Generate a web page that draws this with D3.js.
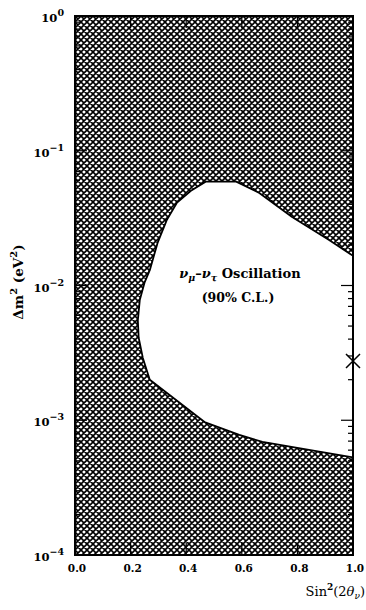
<!DOCTYPE html>
<html>
<head>
<meta charset="utf-8">
<script src="https://cdn.jsdelivr.net/npm/d3@7"></script>
<style>
  html, body { margin: 0; padding: 0; background: #fff; }
  svg text { font-family: "DejaVu Serif", serif; font-weight: bold; fill: #000; }
</style>
</head>
<body>
<svg id="chart" width="366" height="610"></svg>
<script>
// Boundary of the allowed region (90% C.L.), traced from the right edge
// along the upper limit, round the left side and back along the lower limit.
const contourSin2 = [1.000, 0.914, 0.781, 0.663, 0.580, 0.470, 0.420, 0.366, 0.330, 0.297,
                     0.269, 0.250, 0.233, 0.226, 0.229, 0.244, 0.269, 0.466, 0.591, 0.674,
                     0.889, 1.000];
const contourDm2  = [0.0166, 0.0218, 0.0322, 0.0486, 0.059, 0.059, 0.051, 0.041, 0.0306, 0.0207,
                     0.0130, 0.0105, 0.0078, 0.0055, 0.0041, 0.0029, 0.0020, 0.00097, 0.00078, 0.00069,
                     0.00058, 0.00053];

// Best-fit marker
const markerSin2 = [1.0];
const markerDm2  = [0.00275];

// Axis ticks
const xMajorTicks = [0.0, 0.2, 0.4, 0.6, 0.8, 1.0];
const xTickLabels = ["0.0", "0.2", "0.4", "0.6", "0.8", "1.0"];
const yDecades    = [0, -1, -2, -3, -4];
const yTickLabels = ["0", "−1", "−2", "−3", "−4"];

const svg = d3.select("#chart");
const margin = { left: 75, top: 16, right: 13, bottom: 55 };
const W = 366 - margin.left - margin.right;
const H = 610 - margin.top - margin.bottom;

const x = d3.scaleLinear().domain([0, 1]).range([0, W]);
const y = d3.scaleLog().domain([1e-4, 1]).range([H, 0]);

// Cross-hatch fill: two families of 45° lines on a 6 px tile
const defs = svg.append("defs");
const s = 6;
const pat = defs.append("pattern")
  .attr("id", "hatch")
  .attr("patternUnits", "userSpaceOnUse")
  .attr("width", s).attr("height", s);
pat.append("rect").attr("width", s).attr("height", s).attr("fill", "#fff");
pat.append("path")
  .attr("d", `M-1,-1L${s + 1},${s + 1}M-1,${s - 1}L1,${s + 1}M${s - 1},-1L${s + 1},1` +
             `M-1,${s + 1}L${s + 1},-1M-1,1L1,-1M${s - 1},${s + 1}L${s + 1},${s - 1}`)
  .attr("stroke", "#000")
  .attr("stroke-width", 1.6)
  .attr("fill", "none");

defs.append("clipPath").attr("id", "plotClip")
  .append("rect").attr("width", W).attr("height", H);

const g = svg.append("g").attr("transform", `translate(${margin.left},${margin.top})`);
const plot = g.append("g").attr("clip-path", "url(#plotClip)");

plot.append("rect").attr("width", W).attr("height", H).attr("fill", "url(#hatch)");

const pts = contourSin2.map((v, i) => [v, contourDm2[i]]);
const line = d3.line().x(d => x(d[0])).y(d => y(d[1]));

// Allowed region: white fill
plot.append("path")
  .attr("d", line(pts) + "Z")
  .attr("fill", "#fff")
  .attr("stroke", "none");
// Contour line
plot.append("path")
  .attr("d", line(pts))
  .attr("fill", "none")
  .attr("stroke", "#000")
  .attr("stroke-width", 1.8)
  .attr("stroke-linejoin", "round");

// Ticks (inward on all four sides)
const tickG = g.append("g").attr("stroke", "#000").attr("stroke-width", 1.2);
xMajorTicks.slice(1, -1).forEach(t => {
  tickG.append("line").attr("x1", x(t)).attr("x2", x(t)).attr("y1", H).attr("y2", H - 12);
  tickG.append("line").attr("x1", x(t)).attr("x2", x(t)).attr("y1", 0).attr("y2", 12);
});
yDecades.slice(1, -1).forEach(e => {
  const yy = y(Math.pow(10, e));
  tickG.append("line").attr("x1", 0).attr("x2", 12).attr("y1", yy).attr("y2", yy);
  tickG.append("line").attr("x1", W).attr("x2", W - 12).attr("y1", yy).attr("y2", yy);
});
yDecades.slice(1).forEach(e => {
  for (let m = 2; m <= 9; m++) {
    const yy = y(m * Math.pow(10, e));
    tickG.append("line").attr("x1", 0).attr("x2", 5).attr("y1", yy).attr("y2", yy);
    tickG.append("line").attr("x1", W).attr("x2", W - 5).attr("y1", yy).attr("y2", yy);
  }
});

// Frame
g.append("rect").attr("width", W).attr("height", H)
  .attr("fill", "none").attr("stroke", "#000").attr("stroke-width", 2);

// Best-fit X marker
markerSin2.forEach((v, i) => {
  const cx = x(v), cy = y(markerDm2[i]), r = 7;
  g.append("path")
    .attr("d", `M${cx - r},${cy - r}L${cx + r},${cy + r}M${cx - r},${cy + r}L${cx + r},${cy - r}`)
    .attr("stroke", "#000").attr("stroke-width", 1.5).attr("fill", "none");
});

// X tick labels
xMajorTicks.forEach((t, i) => {
  g.append("text")
    .attr("x", x(t) + 2).attr("y", H + 17)
    .attr("text-anchor", "middle")
    .style("font-size", "10.5px")
    .text(xTickLabels[i]);
});

// Y tick labels: 10 with superscript exponent
yDecades.forEach((e, i) => {
  const t = g.append("text")
    .attr("x", -11).attr("y", y(Math.pow(10, e)) + 6)
    .attr("text-anchor", "end")
    .style("font-size", "11.5px");
  t.append("tspan").text("10");
  t.append("tspan").attr("dy", -6).style("font-size", "9.5px").text(yTickLabels[i]);
});

// Axis titles
const yl = svg.append("text")
  .attr("transform", "translate(23,282) rotate(-90)")
  .attr("text-anchor", "middle")
  .style("font-size", "13.5px");
yl.append("tspan").text("Δm");
yl.append("tspan").attr("dy", -6).style("font-size", "10px").text("2");
yl.append("tspan").attr("dy", 6).text(" (eV");
yl.append("tspan").attr("dy", -6).style("font-size", "10px").text("2");
yl.append("tspan").attr("dy", 6).text(")");

const xl = svg.append("text")
  .attr("x", 365).attr("y", 596)
  .attr("text-anchor", "end")
  .style("font-size", "13px")
  .style("font-weight", "normal");
xl.append("tspan").text("Sin");
xl.append("tspan").attr("dy", -6).style("font-size", "9px").style("font-weight", "bold").text("2");
xl.append("tspan").attr("dy", 6).text("(2");
xl.append("tspan").style("font-style", "italic").text("θ");
xl.append("tspan").attr("dy", 3).style("font-size", "9px").style("font-style", "italic").text("ν");
xl.append("tspan").attr("dy", -3).text(")");

// Annotation
const a1 = g.append("text")
  .attr("x", 240 - margin.left).attr("y", 278 - margin.top)
  .attr("text-anchor", "middle")
  .style("font-size", "13px");
a1.append("tspan").style("font-style", "italic").text("ν");
a1.append("tspan").attr("dy", 3).style("font-size", "9.5px").style("font-style", "italic").text("μ");
a1.append("tspan").attr("dy", -3).text("–");
a1.append("tspan").style("font-style", "italic").text("ν");
a1.append("tspan").attr("dy", 3).style("font-size", "9.5px").style("font-style", "italic").text("τ");
a1.append("tspan").attr("dy", -3).text(" Oscillation");

g.append("text")
  .attr("x", 238 - margin.left).attr("y", 302 - margin.top)
  .attr("text-anchor", "middle")
  .style("font-size", "12.5px")
  .text("(90% C.L.)");
</script>
</body>
</html>
